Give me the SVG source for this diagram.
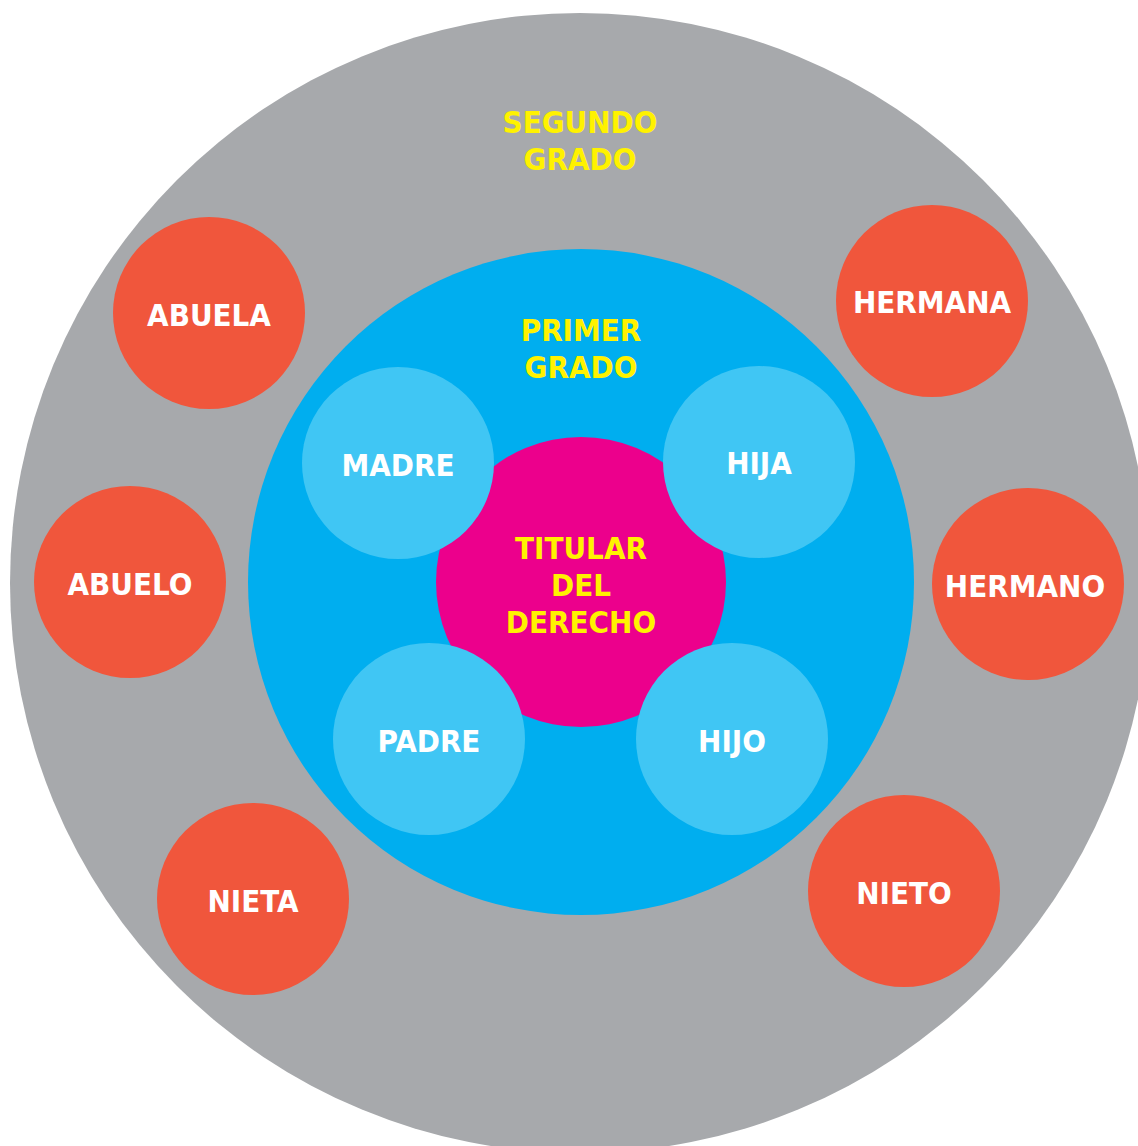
<svg xmlns="http://www.w3.org/2000/svg" width="1138" height="1146" viewBox="0 0 1138 1146">
<style>
.t{font-family:"DejaVu Sans Condensed","DejaVu Sans",sans-serif;font-weight:bold;font-size:31px;text-anchor:middle}
.w{fill:#FFFFFF}
.y{fill:#FFF200}
.red{fill:#F0563C}
.lb{fill:#40C6F4}
</style>
<rect width="1138" height="1146" fill="#FFFFFF"/>
<g id="segundo-grado">
<circle cx="580" cy="583" r="570" fill="#A7A9AC"/>
<text class="t y" x="580" y="133">SEGUNDO</text>
<text class="t y" x="580" y="170">GRADO</text>
</g>
<g id="primer-grado">
<circle cx="581" cy="582" r="333" fill="#00AEEF"/>
<text class="t y" x="581" y="341">PRIMER</text>
<text class="t y" x="581" y="378">GRADO</text>
</g>
<g id="titular">
<circle cx="581" cy="582" r="145" fill="#EC008C"/>
<text class="t y" x="581" y="559">TITULAR</text>
<text class="t y" x="581" y="596">DEL</text>
<text class="t y" x="581" y="633">DERECHO</text>
</g>
<g id="madre"><circle class="lb" cx="398" cy="463" r="96"/><text class="t w" x="398" y="476">MADRE</text></g>
<g id="hija"><circle class="lb" cx="759" cy="462" r="96"/><text class="t w" x="759" y="474">HIJA</text></g>
<g id="padre"><circle class="lb" cx="429" cy="739" r="96"/><text class="t w" x="429" y="752">PADRE</text></g>
<g id="hijo"><circle class="lb" cx="732" cy="739" r="96"/><text class="t w" x="732" y="752">HIJO</text></g>
<g id="abuela"><circle class="red" cx="209" cy="313" r="96"/><text class="t w" x="209" y="326">ABUELA</text></g>
<g id="hermana"><circle class="red" cx="932" cy="301" r="96"/><text class="t w" x="932" y="313">HERMANA</text></g>
<g id="abuelo"><circle class="red" cx="130" cy="582" r="96"/><text class="t w" x="130" y="595">ABUELO</text></g>
<g id="hermano"><circle class="red" cx="1028" cy="584" r="96"/><text class="t w" x="1025" y="597">HERMANO</text></g>
<g id="nieta"><circle class="red" cx="253" cy="899" r="96"/><text class="t w" x="253" y="912">NIETA</text></g>
<g id="nieto"><circle class="red" cx="904" cy="891" r="96"/><text class="t w" x="904" y="904">NIETO</text></g>
<g id="connectors"></g>
</svg>
